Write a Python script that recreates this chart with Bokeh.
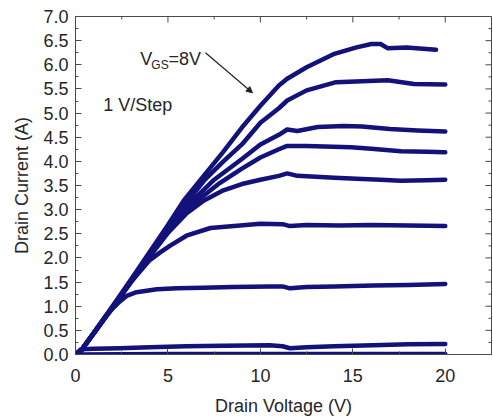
import math
from bokeh.plotting import figure
from bokeh.models import Range1d, FixedTicker, PrintfTickFormatter, Label, Arrow, NormalHead
from bokeh.embed import file_html
from bokeh.resources import INLINE

# ---- data ----
vd_0 = [0.0, 5.0, 10.0, 15.0, 20.0]
id_0 = [0.0, 0.01, 0.01, 0.01, 0.01]

vd_1 = [0.0, 0.3, 1.0, 2.4, 4.0, 6.0, 8.0, 10.5, 11.2, 11.6, 12.5, 14.0, 16.1, 18.0, 20.0]
id_1 = [0.0, 0.11, 0.12, 0.13, 0.15, 0.17, 0.18, 0.19, 0.17, 0.13, 0.15, 0.17, 0.19, 0.21, 0.22]

vd_2 = [0.0, 0.3, 1.0, 1.5, 2.0, 2.4, 2.8, 3.3, 4.4, 5.5, 6.9, 8.5, 10.5, 11.2, 11.6, 12.5, 14.0, 16.1, 18.0, 20.0]
id_2 = [0.0, 0.08, 0.45, 0.72, 0.95, 1.1, 1.22, 1.29, 1.35, 1.37, 1.38, 1.4, 1.41, 1.41, 1.37, 1.4, 1.41, 1.43, 1.44, 1.46]

vd_3 = [0.0, 0.3, 1.0, 2.0, 3.0, 4.0, 4.6, 5.1, 6.0, 7.3, 8.9, 10.0, 11.2, 11.6, 12.5, 14.3, 16.0, 18.0, 20.0]
id_3 = [0.0, 0.08, 0.45, 0.98, 1.5, 1.95, 2.12, 2.25, 2.46, 2.62, 2.67, 2.71, 2.7, 2.66, 2.68, 2.67, 2.68, 2.67, 2.66]

vd_4 = [0.0, 0.3, 1.0, 2.0, 3.0, 4.0, 5.0, 6.0, 6.95, 8.0, 9.0, 10.0, 11.0, 11.45, 12.0, 12.5, 14.0, 15.2, 16.5, 17.6, 19.0, 20.0]
id_4 = [0.0, 0.08, 0.44, 0.97, 1.5, 2.02, 2.52, 2.92, 3.19, 3.4, 3.53, 3.62, 3.7, 3.75, 3.7, 3.69, 3.66, 3.64, 3.62, 3.6, 3.61, 3.62]

vd_5 = [0.0, 0.3, 1.0, 2.0, 3.0, 4.0, 5.0, 6.6, 7.8, 9.0, 10.0, 11.0, 11.45, 12.5, 14.9, 16.0, 17.6, 19.0, 20.0]
id_5 = [0.0, 0.08, 0.44, 0.97, 1.51, 2.04, 2.55, 3.19, 3.55, 3.85, 4.08, 4.25, 4.32, 4.32, 4.29, 4.26, 4.21, 4.2, 4.19]

vd_6 = [0.0, 0.3, 1.0, 2.0, 3.0, 4.0, 5.0, 6.35, 7.5, 9.0, 10.0, 11.0, 11.45, 12.0, 13.1, 14.5, 15.5, 17.0, 18.5, 20.0]
id_6 = [0.0, 0.08, 0.45, 0.98, 1.52, 2.06, 2.58, 3.19, 3.62, 4.05, 4.35, 4.55, 4.66, 4.63, 4.71, 4.73, 4.72, 4.67, 4.64, 4.62]

vd_7 = [0.0, 0.3, 1.0, 2.0, 3.0, 4.0, 5.0, 6.1, 7.0, 8.0, 9.0, 10.0, 11.0, 11.45, 12.5, 14.1, 15.5, 16.9, 18.3, 20.0]
id_7 = [0.0, 0.08, 0.45, 0.99, 1.53, 2.08, 2.62, 3.19, 3.62, 4.0, 4.35, 4.8, 5.1, 5.26, 5.47, 5.64, 5.66, 5.68, 5.6, 5.59]

vd_8 = [0.0, 0.3, 1.0, 2.0, 3.0, 4.0, 5.0, 5.86, 7.0, 8.0, 9.0, 10.0, 11.0, 11.45, 12.5, 13.95, 15.2, 16.0, 16.5, 16.9, 17.9, 19.5]
id_8 = [0.0, 0.08, 0.46, 1.0, 1.55, 2.12, 2.68, 3.19, 3.73, 4.2, 4.7, 5.15, 5.57, 5.71, 5.95, 6.22, 6.36, 6.43, 6.43, 6.34, 6.36, 6.31]

curves = [(vd_0, id_0), (vd_1, id_1), (vd_2, id_2), (vd_3, id_3), (vd_4, id_4),
          (vd_5, id_5), (vd_6, id_6), (vd_7, id_7), (vd_8, id_8)]

x_ticks = [0, 5, 10, 15, 20]
x_minor = [2.5, 7.5, 12.5, 17.5, 22.5]
y_ticks = [0.0, 0.5, 1.0, 1.5, 2.0, 2.5, 3.0, 3.5, 4.0, 4.5, 5.0, 5.5, 6.0, 6.5, 7.0]
y_minor = [0.25, 0.75, 1.25, 1.75, 2.25, 2.75, 3.25, 3.75, 4.25, 4.75, 5.25, 5.75, 6.25, 6.75]

X_MAX = 22.5
Y_MAX = 7.0

LINE_COLOR = "#12127a"
TEXT_COLOR = "#262626"
AX_COLOR = "#4a4a4a"
FONT = "Liberation Sans"

p = figure(width=493, height=418, x_range=Range1d(0, X_MAX), y_range=Range1d(0, Y_MAX),
           output_backend="svg", toolbar_location=None,
           min_border_left=75, min_border_right=2, min_border_top=16, min_border_bottom=64)
p.grid.visible = False
p.outline_line_color = AX_COLOR
p.outline_line_width = 1
p.background_fill_color = "white"
p.border_fill_color = "white"

for vx, iy in curves:
    p.line(vx, iy, line_color=LINE_COLOR, line_width=4.5, line_join="round", line_cap="round")


def style_axis(ax, ticks, minor):
    ax.ticker = FixedTicker(ticks=ticks, minor_ticks=minor)
    ax.major_tick_in = 6
    ax.major_tick_out = 0
    ax.minor_tick_in = 3
    ax.minor_tick_out = 0
    ax.axis_line_color = AX_COLOR
    ax.major_tick_line_color = AX_COLOR
    ax.minor_tick_line_color = AX_COLOR
    ax.major_label_text_font = FONT
    ax.major_label_text_color = TEXT_COLOR
    ax.major_label_text_font_size = "18px"
    ax.axis_label_text_font = FONT
    ax.axis_label_text_color = TEXT_COLOR
    ax.axis_label_text_font_style = "normal"
    ax.axis_label_text_font_size = "18px"


xa = p.xaxis[0]
style_axis(xa, x_ticks, x_minor)
xa.axis_label = "Drain Voltage (V)"
xa.major_label_standoff = 14
xa.axis_label_standoff = 11

ya = p.yaxis[0]
style_axis(ya, y_ticks, y_minor)
ya.formatter = PrintfTickFormatter(format="%.1f")
ya.axis_label = "Drain Current (A)"
ya.major_label_standoff = 7
ya.axis_label_standoff = 8

# mirrored inward ticks on the top and right edges (half of each dash is clipped by the frame)
p.scatter(x=x_ticks, y=[Y_MAX] * len(x_ticks), marker="dash", size=12, angle=math.pi / 2,
          line_color=AX_COLOR, line_width=1)
p.scatter(x=x_minor, y=[Y_MAX] * len(x_minor), marker="dash", size=6, angle=math.pi / 2,
          line_color=AX_COLOR, line_width=1)
p.scatter(x=[X_MAX] * len(y_ticks), y=y_ticks, marker="dash", size=12,
          line_color=AX_COLOR, line_width=1)
p.scatter(x=[X_MAX] * len(y_minor), y=y_minor, marker="dash", size=6,
          line_color=AX_COLOR, line_width=1)

# ---- annotations ----
p.add_layout(Label(x=3.5, y=6.11, text="V", text_font=FONT, text_font_size="18px",
                   text_color=TEXT_COLOR, text_baseline="alphabetic"))
p.add_layout(Label(x=4.1, y=5.99, text="GS", text_font=FONT, text_font_size="12px",
                   text_color=TEXT_COLOR, text_baseline="alphabetic"))
p.add_layout(Label(x=5.03, y=6.11, text="=8V", text_font=FONT, text_font_size="18px",
                   text_color=TEXT_COLOR, text_baseline="alphabetic"))
p.add_layout(Label(x=1.5, y=5.16, text="1 V/Step", text_font=FONT, text_font_size="18px",
                   text_color=TEXT_COLOR, text_baseline="alphabetic"))
p.add_layout(Arrow(x_start=7.03, y_start=6.25, x_end=9.57, y_end=5.42,
                   line_color="#222222", line_width=1.2,
                   end=NormalHead(size=6, fill_color="#222222", line_color="#222222")))

open("out.html", "w").write(file_html(p, INLINE))
